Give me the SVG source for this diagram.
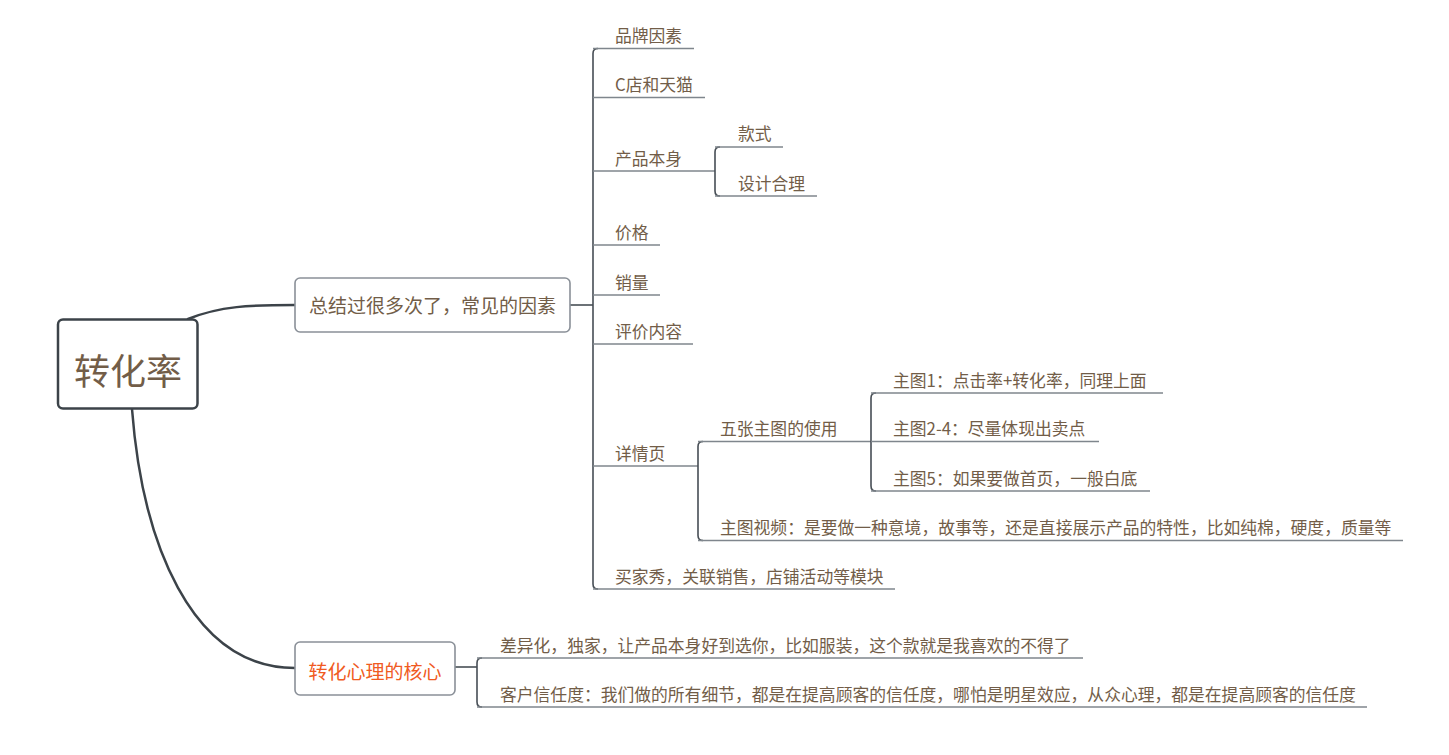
<svg xmlns="http://www.w3.org/2000/svg" width="1449" height="755" viewBox="0 0 1449 755">
<style>
text{font-family:"Noto Sans CJK SC","Microsoft YaHei",sans-serif;fill:#725d48;}
.t{font-size:16.8px;}
.main{stroke:#3c4349;stroke-width:2.5;fill:none;stroke-linecap:round;}
.spine{stroke:#474e55;stroke-width:1.6;fill:none;}
.ul{stroke:#7f868d;stroke-width:1.6;fill:none;}
.box{fill:#fff;stroke:#8a9098;stroke-width:1.6;}
</style>
<rect width="1449" height="755" fill="#fff"/>
<g id="connectors">
<path class="main" d="M188,319 C220,306 250,305 295,305"/>
<path class="main" d="M132,409 C142,540 190,668 295,668"/>
<path class="spine" d="M570,305 H593"/>
<path class="spine" d="M598,48.5 Q593,48.5 593,53.5 V584 Q593,589 598,589"/>
<path class="ul" d="M593,48.5 H694"/>
<path class="ul" d="M593,97.5 H705"/>
<path class="ul" d="M593,171 H715"/>
<path class="ul" d="M593,245 H660"/>
<path class="ul" d="M593,295 H660"/>
<path class="ul" d="M593,344 H693"/>
<path class="ul" d="M593,466 H698"/>
<path class="ul" d="M593,589 H895"/>
<path class="spine" d="M720,147 Q715,147 715,152 V191 Q715,196 720,196"/>
<path class="ul" d="M715,147 H783"/>
<path class="ul" d="M715,196 H817"/>
<path class="spine" d="M703,441.5 Q698,441.5 698,446.5 V535.5 Q698,540.5 703,540.5"/>
<path class="ul" d="M698,441.5 H871"/>
<path class="ul" d="M698,540.5 H1403"/>
<path class="spine" d="M876,393 Q871,393 871,398 V486 Q871,491 876,491"/>
<path class="ul" d="M871,393 H1163"/>
<path class="ul" d="M871,441.5 H1099"/>
<path class="ul" d="M871,491 H1150"/>
<path class="spine" d="M455,667 H477"/>
<path class="spine" d="M482,658 Q477,658 477,663 V702 Q477,707 482,707"/>
<path class="ul" d="M477,658 H1083"/>
<path class="ul" d="M477,707 H1367"/>
</g>
<g id="root">
<rect x="58" y="319.5" width="139.5" height="89" rx="5" fill="#fff" stroke="#3c4349" stroke-width="2.5"/>
<text x="128" y="385" font-size="36" text-anchor="middle">转化率</text>
</g>
<g id="n-factors">
<rect class="box" x="295" y="278" width="275" height="54" rx="5"/>
<text x="432.5" y="313" font-size="19" text-anchor="middle">总结过很多次了，常见的因素</text>
</g>
<g id="n-core">
<rect class="box" x="295" y="642" width="160" height="53" rx="5"/>
<text x="375" y="679" font-size="19" text-anchor="middle" style="fill:#f05a22">转化心理的核心</text>
</g>
<g id="n-brand"><text class="t" x="615" y="42">品牌因素</text></g>
<g id="n-ctmall"><text class="t" x="615" y="91">C店和天猫</text></g>
<g id="n-product"><text class="t" x="615" y="164.5">产品本身</text></g>
<g id="n-style"><text class="t" x="738" y="140">款式</text></g>
<g id="n-design"><text class="t" x="738" y="189.5">设计合理</text></g>
<g id="n-price"><text class="t" x="615" y="238.5">价格</text></g>
<g id="n-sales"><text class="t" x="615" y="288.5">销量</text></g>
<g id="n-review"><text class="t" x="615" y="337.5">评价内容</text></g>
<g id="n-detail"><text class="t" x="615" y="459.5">详情页</text></g>
<g id="n-five"><text class="t" x="720" y="435">五张主图的使用</text></g>
<g id="n-m1"><text class="t" x="893" y="386.5">主图1：点击率+转化率，同理上面</text></g>
<g id="n-m24"><text class="t" x="893" y="435">主图2-4：尽量体现出卖点</text></g>
<g id="n-m5"><text class="t" x="893" y="484.5">主图5：如果要做首页，一般白底</text></g>
<g id="n-video"><text class="t" x="720" y="534">主图视频：是要做一种意境，故事等，还是直接展示产品的特性，比如纯棉，硬度，质量等</text></g>
<g id="n-buyer"><text class="t" x="615" y="582.5">买家秀，关联销售，店铺活动等模块</text></g>
<g id="n-diff"><text class="t" x="500" y="651.5">差异化，独家，让产品本身好到选你，比如服装，这个款就是我喜欢的不得了</text></g>
<g id="n-trust"><text class="t" x="500" y="700.5">客户信任度：我们做的所有细节，都是在提高顾客的信任度，哪怕是明星效应，从众心理，都是在提高顾客的信任度</text></g>
</svg>
